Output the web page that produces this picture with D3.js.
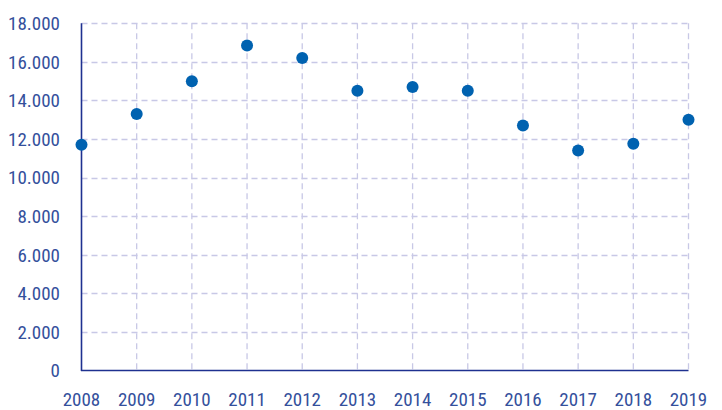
<!DOCTYPE html>
<html><head><meta charset="utf-8">
<script src="https://cdn.jsdelivr.net/npm/d3@7"></script>
<style>
html,body{margin:0;padding:0;background:#fff;}
text{font-family:"Liberation Sans Narrow","Arial Narrow","Roboto",sans-serif;font-stretch:condensed;}
</style></head>
<body><svg id="chart" width="722" height="410"></svg>
<script>
const years = [2008,2009,2010,2011,2012,2013,2014,2015,2016,2017,2018,2019];
const values = [11700,13300,15000,16850,16200,14500,14700,14500,12700,11400,11750,13000];
const yTicks = [0,2000,4000,6000,8000,10000,12000,14000,16000,18000];
const yTickLabels = ["0","2.000","4.000","6.000","8.000","10.000","12.000","14.000","16.000","18.000"];

const svg = d3.select("#chart");
const mLeft = 81.5, mRight = 688.5, mTop = 23.3, mBottom = 370.5;
const x = d3.scalePoint().domain(years).range([mLeft, mRight]);
const y = d3.scaleLinear().domain([0, 18000]).range([mBottom, mTop]);
const textColor = "#34509c", axisColor = "#1e3190", gridColor = "#c8c8e6";

// horizontal grid
svg.append("g").selectAll("line").data(yTicks.filter(d => d > 0)).join("line")
  .attr("x1", mLeft).attr("x2", mRight)
  .attr("y1", d => Math.round(y(d)) + 0.5).attr("y2", d => Math.round(y(d)) + 0.5)
  .attr("stroke", gridColor).attr("stroke-width", 1.3).attr("stroke-dasharray", "6,4");
// vertical grid
svg.append("g").selectAll("line").data(years.slice(1)).join("line")
  .attr("x1", d => x(d)).attr("x2", d => x(d))
  .attr("y1", y(18000)).attr("y2", mBottom)
  .attr("stroke", gridColor).attr("stroke-width", 1.3).attr("stroke-dasharray", "6,4");

// axes lines
svg.append("line").attr("x1", mLeft).attr("x2", mLeft).attr("y1", y(18000)).attr("y2", mBottom + 0.5)
  .attr("stroke", axisColor).attr("stroke-width", 1.6);
svg.append("line").attr("x1", mLeft - 0.5).attr("x2", mRight).attr("y1", mBottom).attr("y2", mBottom)
  .attr("stroke", axisColor).attr("stroke-width", 1.6);

// y labels
svg.append("g").selectAll("text").data(yTicks).join("text")
  .attr("x", 60).attr("y", d => y(d)).attr("dy", "0.36em")
  .attr("text-anchor", "end").attr("fill", textColor).attr("font-size", 19)
  .text((d, i) => yTickLabels[i]);
// x labels
svg.append("g").selectAll("text").data(years).join("text")
  .attr("x", d => x(d)).attr("y", 406)
  .attr("text-anchor", "middle").attr("fill", textColor).attr("font-size", 19)
  .text(d => d);

// points
svg.append("g").selectAll("circle").data(years).join("circle")
  .attr("cx", d => x(d)).attr("cy", (d, i) => y(values[i])).attr("r", 6)
  .attr("fill", "#0062b0");
</script></body></html>
